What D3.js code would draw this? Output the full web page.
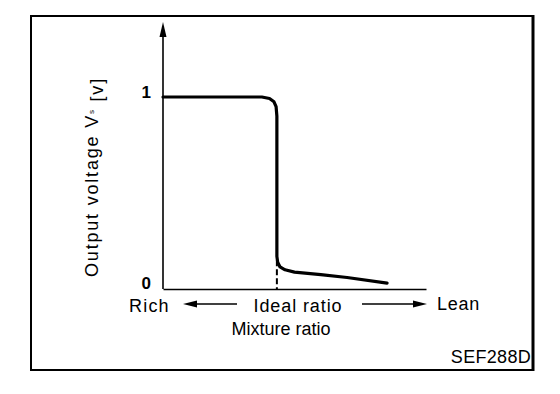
<!DOCTYPE html>
<style>
  body { margin: 0; background: #fff; }
  text { font-family: "Liberation Sans", Arial, sans-serif; fill: #000; }
</style>
<div id="container"></div>
<script src="https://cdn.jsdelivr.net/npm/d3@7"></script>
<script type="module">

// mixture ratio (0 = rich, 1 = lean end of axis) vs output voltage [V]
const ratio   = [0, 0.376, 0.405, 0.422, 0.430, 0.433, 0.433, 0.436, 0.445, 0.464, 0.50, 0.60, 0.70, 0.852];
const voltage = [1, 1,     0.992, 0.975, 0.95,  0.90,  0.17,  0.14,  0.115, 0.10,  0.088, 0.075, 0.06, 0.031];
const idealRatio = 0.433;
const yTicks = [0, 1];

const svg = d3.select("#container")
  .append("svg")
  .attr("width", 560)
  .attr("height", 394);

// outer frame
svg.append("rect")
  .attr("x", 31).attr("y", 16)
  .attr("width", 502).attr("height", 354)
  .attr("fill", "none").attr("stroke", "#000").attr("stroke-width", 2);
svg.append("line")
  .attr("x1", 533).attr("x2", 533).attr("y1", 15).attr("y2", 371)
  .attr("stroke", "#000").attr("stroke-width", 3);

const x = d3.scaleLinear().domain([0, 1]).range([163, 426]);
const y = d3.scaleLinear().domain([0, 1]).range([289, 97]);

// x axis
svg.append("g")
  .attr("transform", `translate(0,${y(0)})`)
  .call(d3.axisBottom(x).tickValues([]).tickSizeOuter(0))
  .select(".domain").attr("stroke-width", 1.6);

// y axis with arrow
svg.append("line")
  .attr("x1", x(0)).attr("x2", x(0))
  .attr("y1", y(0)).attr("y2", 30)
  .attr("stroke", "#000").attr("stroke-width", 1.6);
svg.append("path")
  .attr("d", `M${x(0)},22 L${x(0) + 3.5},37 L${x(0) - 3.5},37 Z`)
  .attr("fill", "#000");

const yAxis = svg.append("g")
  .attr("transform", `translate(${x(0)},0)`)
  .call(d3.axisLeft(y).tickValues(yTicks).tickSize(0).tickPadding(12).tickFormat(d3.format("d")));
yAxis.select(".domain").remove();
yAxis.selectAll("text")
  .attr("dy", d => d === 0 ? "-0.05em" : "0.05em")
  .style("font-size", "17px")
  .style("font-weight", "bold")
  .style("font-family", "\"Liberation Sans\", Arial, sans-serif");

// dashed line at ideal ratio
svg.append("line")
  .attr("x1", x(idealRatio)).attr("x2", x(idealRatio))
  .attr("y1", y(0.15)).attr("y2", y(0))
  .attr("stroke", "#000").attr("stroke-width", 2)
  .attr("stroke-dasharray", "6,3");

// output voltage curve
const line = d3.line()
  .x((d, i) => x(ratio[i]))
  .y(d => y(d))
  .curve(d3.curveLinear);
svg.append("path")
  .datum(voltage)
  .attr("d", line)
  .attr("fill", "none")
  .attr("stroke", "#000")
  .attr("stroke-width", 3.2)
  .attr("stroke-linejoin", "round")
  .attr("stroke-linecap", "round");

// y axis title
const yTitle = svg.append("text")
  .attr("transform", "translate(98,177) rotate(-90)")
  .attr("text-anchor", "middle")
  .style("font-size", "18px")
  .style("letter-spacing", "1.8px");
yTitle.append("tspan").text("Output voltage V");
yTitle.append("tspan").attr("dy", "-0.5em").style("font-size", "8px").text("s");
yTitle.append("tspan").attr("dy", "0.5em").text(" [v]");

// bottom labels
const labels = [
  { t: "Rich", x: 129, y: 312, a: "start", s: 1.2 },
  { t: "Ideal ratio", x: 298, y: 312, a: "middle", s: 0.9 },
  { t: "Lean", x: 437, y: 310, a: "start", s: 0.7 },
  { t: "Mixture ratio", x: 281, y: 335, a: "middle", s: 0 },
  { t: "SEF288D", x: 531, y: 363, a: "end", s: 0.3 }
];
svg.selectAll("text.lbl")
  .data(labels)
  .join("text")
  .attr("class", "lbl")
  .attr("x", d => d.x).attr("y", d => d.y)
  .attr("text-anchor", d => d.a)
  .style("font-size", "18px")
  .style("letter-spacing", d => d.s + "px")
  .text(d => d.t);

// direction arrows
const arrows = [[237, 183], [362, 427]];
arrows.forEach(([from, to]) => {
  const dir = Math.sign(to - from);
  svg.append("line")
    .attr("x1", from).attr("x2", to - dir * 10)
    .attr("y1", 304).attr("y2", 304)
    .attr("stroke", "#000").attr("stroke-width", 1.5);
  svg.append("path")
    .attr("d", `M${to},304 L${to - dir * 14},300.5 L${to - dir * 14},307.5 Z`)
    .attr("fill", "#000");
});

</script>
